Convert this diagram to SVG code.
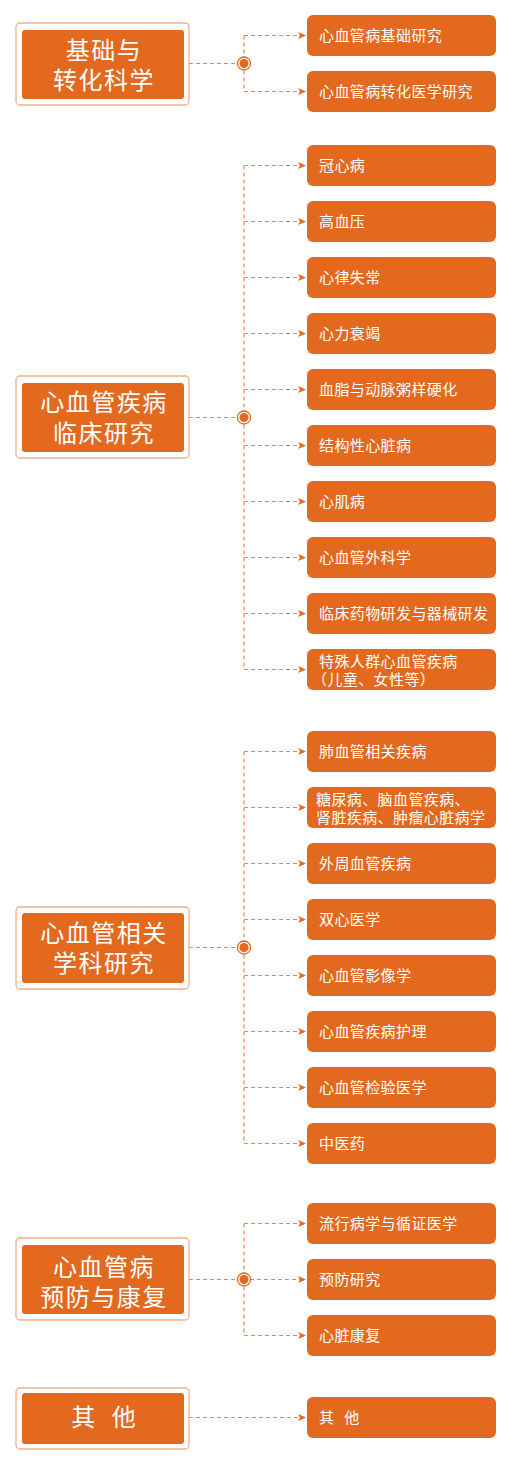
<svg xmlns="http://www.w3.org/2000/svg" width="522" height="1469" viewBox="0 0 522 1469">
<style>
.outer{fill:#fff;stroke:#f0b088;stroke-width:1.3}
.inner{fill:#e3691f}
.item{fill:#e3691f}
.ht{fill:#fff;font-family:"Liberation Sans","Noto Sans CJK SC",sans-serif;font-size:24px;letter-spacing:1.5px;text-anchor:middle}
.it{fill:#fff;font-family:"Liberation Sans","Noto Sans CJK SC",sans-serif;font-size:15px;letter-spacing:0.4px}
.dl{fill:none;stroke:#e9874f;stroke-width:1.2;stroke-dasharray:4 3}
.ring{fill:#fff;stroke:#e3691f;stroke-width:1.3}
.dot{fill:#e3691f}
</style>
<defs>
<marker id="ah" markerWidth="8" markerHeight="8" refX="7" refY="4" orient="auto" markerUnits="userSpaceOnUse">
<path d="M0,0.5 L8,4 L0,7.5 L2,4 Z" fill="#e3691f"/>
</marker>
</defs>

<g id="connectors">
<path class="dl" d="M189,63.5 H238"/>
<path class="dl" d="M244,35.5 V91.5"/>
<path class="dl" d="M244,35.5 H305" marker-end="url(#ah)"/>
<path class="dl" d="M244,91.5 H305" marker-end="url(#ah)"/>
<path class="dl" d="M189,417.5 H238"/>
<path class="dl" d="M244,165.5 V669.5"/>
<path class="dl" d="M244,165.5 H305" marker-end="url(#ah)"/>
<path class="dl" d="M244,221.5 H305" marker-end="url(#ah)"/>
<path class="dl" d="M244,277.5 H305" marker-end="url(#ah)"/>
<path class="dl" d="M244,333.5 H305" marker-end="url(#ah)"/>
<path class="dl" d="M244,389.5 H305" marker-end="url(#ah)"/>
<path class="dl" d="M244,445.5 H305" marker-end="url(#ah)"/>
<path class="dl" d="M244,501.5 H305" marker-end="url(#ah)"/>
<path class="dl" d="M244,557.5 H305" marker-end="url(#ah)"/>
<path class="dl" d="M244,613.5 H305" marker-end="url(#ah)"/>
<path class="dl" d="M244,669.5 H305" marker-end="url(#ah)"/>
<path class="dl" d="M189,947.5 H238"/>
<path class="dl" d="M244,751.5 V1143.5"/>
<path class="dl" d="M244,751.5 H305" marker-end="url(#ah)"/>
<path class="dl" d="M244,807.5 H305" marker-end="url(#ah)"/>
<path class="dl" d="M244,863.5 H305" marker-end="url(#ah)"/>
<path class="dl" d="M244,919.5 H305" marker-end="url(#ah)"/>
<path class="dl" d="M244,975.5 H305" marker-end="url(#ah)"/>
<path class="dl" d="M244,1031.5 H305" marker-end="url(#ah)"/>
<path class="dl" d="M244,1087.5 H305" marker-end="url(#ah)"/>
<path class="dl" d="M244,1143.5 H305" marker-end="url(#ah)"/>
<path class="dl" d="M189,1279.5 H238"/>
<path class="dl" d="M244,1223.5 V1335.5"/>
<path class="dl" d="M244,1223.5 H305" marker-end="url(#ah)"/>
<path class="dl" d="M250,1279.5 H305" marker-end="url(#ah)"/>
<path class="dl" d="M244,1335.5 H305" marker-end="url(#ah)"/>
<path class="dl" d="M189,1417.5 H305" marker-end="url(#ah)"/>
<circle class="ring" cx="244" cy="63.5" r="6.5"/><circle class="dot" cx="244" cy="63.5" r="4.5"/>
<circle class="ring" cx="244" cy="417.5" r="6.5"/><circle class="dot" cx="244" cy="417.5" r="4.5"/>
<circle class="ring" cx="244" cy="947.5" r="6.5"/><circle class="dot" cx="244" cy="947.5" r="4.5"/>
<circle class="ring" cx="244" cy="1279.5" r="6.5"/><circle class="dot" cx="244" cy="1279.5" r="4.5"/>
</g>

<g id="h1">
<rect class="outer" x="16" y="23" width="173" height="82" rx="4"/>
<rect class="inner" x="22" y="30" width="162" height="69" rx="3"/>
<text class="ht"><tspan x="104" y="58.5">基础与</tspan><tspan x="104" y="88.5">转化科学</tspan></text>
</g>
<g id="h2">
<rect class="outer" x="16" y="376" width="173" height="82" rx="4"/>
<rect class="inner" x="22" y="383" width="162" height="69" rx="3"/>
<text class="ht"><tspan x="104" y="411">心血管疾病</tspan><tspan x="104" y="442">临床研究</tspan></text>
</g>
<g id="h3">
<rect class="outer" x="16" y="907" width="173" height="82" rx="4"/>
<rect class="inner" x="22" y="913" width="162" height="70" rx="3"/>
<text class="ht"><tspan x="104" y="942">心血管相关</tspan><tspan x="104" y="972">学科研究</tspan></text>
</g>
<g id="h4">
<rect class="outer" x="16" y="1238" width="173" height="82" rx="4"/>
<rect class="inner" x="22" y="1245" width="162" height="69" rx="3"/>
<text class="ht"><tspan x="104" y="1276">心血管病</tspan><tspan x="104" y="1306">预防与康复</tspan></text>
</g>
<g id="h5">
<rect class="outer" x="16" y="1388" width="173" height="61" rx="4"/>
<rect class="inner" x="22" y="1393" width="162" height="51" rx="3"/>
<text class="ht" x="106" y="1426" style="letter-spacing:5px">其 他</text>
</g>

<g id="i1a"><rect class="item" x="307" y="15" width="189" height="41" rx="6"/><text class="it" x="319" y="41">心血管病基础研究</text></g>
<g id="i1b"><rect class="item" x="307" y="71" width="189" height="41" rx="6"/><text class="it" x="319" y="97">心血管病转化医学研究</text></g>

<g id="i2a"><rect class="item" x="307" y="145" width="189" height="41" rx="6"/><text class="it" x="319" y="171">冠心病</text></g>
<g id="i2b"><rect class="item" x="307" y="201" width="189" height="41" rx="6"/><text class="it" x="319" y="227">高血压</text></g>
<g id="i2c"><rect class="item" x="307" y="257" width="189" height="41" rx="6"/><text class="it" x="319" y="283">心律失常</text></g>
<g id="i2d"><rect class="item" x="307" y="313" width="189" height="41" rx="6"/><text class="it" x="319" y="339">心力衰竭</text></g>
<g id="i2e"><rect class="item" x="307" y="369" width="189" height="41" rx="6"/><text class="it" x="319" y="395">血脂与动脉粥样硬化</text></g>
<g id="i2f"><rect class="item" x="307" y="425" width="189" height="41" rx="6"/><text class="it" x="319" y="451">结构性心脏病</text></g>
<g id="i2g"><rect class="item" x="307" y="481" width="189" height="41" rx="6"/><text class="it" x="319" y="507">心肌病</text></g>
<g id="i2h"><rect class="item" x="307" y="537" width="189" height="41" rx="6"/><text class="it" x="319" y="563">心血管外科学</text></g>
<g id="i2i"><rect class="item" x="307" y="593" width="189" height="41" rx="6"/><text class="it" x="319" y="619">临床药物研发与器械研发</text></g>
<g id="i2j"><rect class="item" x="307" y="649" width="189" height="41" rx="6"/><text class="it"><tspan x="319" y="667">特殊人群心血管疾病</tspan><tspan x="312" y="685">（儿童、女性等）</tspan></text></g>

<g id="i3a"><rect class="item" x="307" y="731" width="189" height="41" rx="6"/><text class="it" x="319" y="757">肺血管相关疾病</text></g>
<g id="i3b"><rect class="item" x="307" y="787" width="189" height="41" rx="6"/><text class="it"><tspan x="316" y="805">糖尿病、脑血管疾病、</tspan><tspan x="316" y="823">肾脏疾病、肿瘤心脏病学</tspan></text></g>
<g id="i3c"><rect class="item" x="307" y="843" width="189" height="41" rx="6"/><text class="it" x="319" y="869">外周血管疾病</text></g>
<g id="i3d"><rect class="item" x="307" y="899" width="189" height="41" rx="6"/><text class="it" x="319" y="925">双心医学</text></g>
<g id="i3e"><rect class="item" x="307" y="955" width="189" height="41" rx="6"/><text class="it" x="319" y="981">心血管影像学</text></g>
<g id="i3f"><rect class="item" x="307" y="1011" width="189" height="41" rx="6"/><text class="it" x="319" y="1037">心血管疾病护理</text></g>
<g id="i3g"><rect class="item" x="307" y="1067" width="189" height="41" rx="6"/><text class="it" x="319" y="1093">心血管检验医学</text></g>
<g id="i3h"><rect class="item" x="307" y="1123" width="189" height="41" rx="6"/><text class="it" x="319" y="1149">中医药</text></g>

<g id="i4a"><rect class="item" x="307" y="1203" width="189" height="41" rx="6"/><text class="it" x="319" y="1229">流行病学与循证医学</text></g>
<g id="i4b"><rect class="item" x="307" y="1259" width="189" height="41" rx="6"/><text class="it" x="319" y="1285">预防研究</text></g>
<g id="i4c"><rect class="item" x="307" y="1315" width="189" height="41" rx="6"/><text class="it" x="319" y="1341">心脏康复</text></g>

<g id="i5a"><rect class="item" x="307" y="1397" width="189" height="41" rx="6"/><text class="it" x="319" y="1423" style="letter-spacing:3px">其 他</text></g>
</svg>
